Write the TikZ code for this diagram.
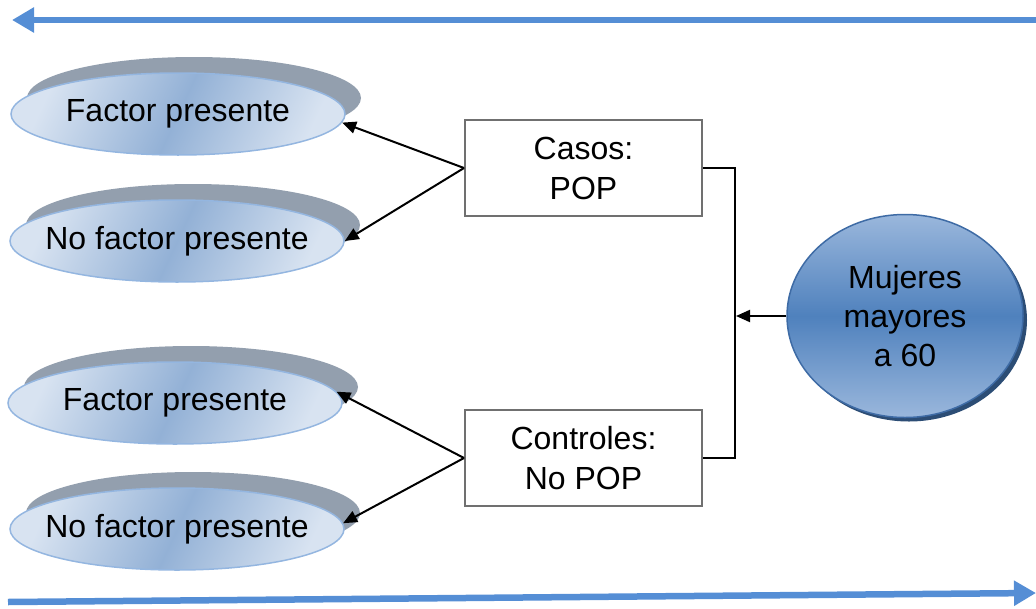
\documentclass[tikz,border=0pt]{standalone}
\usepackage{fontspec}
\setmainfont{Liberation Sans}
\usetikzlibrary{shapes.geometric,arrows.meta,calc}
\definecolor{ellL}{HTML}{D8E3F1}
\definecolor{ellD}{HTML}{93B1D6}
\definecolor{ellB}{HTML}{94B6E0}
\definecolor{shgray}{HTML}{939FAE}
\definecolor{cirL}{HTML}{9AB7DC}
\definecolor{cirD}{HTML}{4F81BD}
\definecolor{cirB}{HTML}{3E6BA5}
\definecolor{cirS}{HTML}{2C4D75}
\definecolor{arrblue}{HTML}{558ED5}
\definecolor{boxgray}{HTML}{707070}
\tikzset{
  ell/.style={ellipse, draw=ellB, line width=1.5pt, minimum width=334pt, minimum height=82pt,
    inner sep=0pt, shading=axis, left color=ellL, right color=ellL, middle color=ellD, shading angle=65,
    font=\fontsize{32}{36}\selectfont},
  shadowell/.style={fill=shgray},
  box/.style={rectangle, draw=boxgray, line width=2pt, minimum width=237pt, minimum height=96pt,
    align=center, font=\fontsize{32}{40}\selectfont, fill=white},
  circ/.style={ellipse, draw=cirB, line width=1.5pt, minimum width=236pt, minimum height=203pt,
    inner sep=0pt, align=center, top color=cirL, bottom color=cirL, middle color=cirD,
    font=\fontsize{32}{39}\selectfont},
  conn/.style={black, line width=2pt, -{Triangle[length=14pt,width=12pt]}},
  plain/.style={black, line width=2pt},
  bigarrow/.style={arrblue, line width=6.5pt, -{Triangle[length=22pt,width=24pt]}}
}
\begin{document}
\begin{tikzpicture}[x=1pt,y=-1pt]
\useasboundingbox (0,0) rectangle (1036,608);
% blue arrows
\coordinate (tr) at (1036,20);
\coordinate (tl) at (12,20);
\draw[bigarrow] (tr) -- (tl);
\coordinate (bl) at (8,602);
\coordinate (brr) at (1036,593);
\draw[bigarrow] (bl) -- (brr);
% shadows
\fill[shadowell] (194,98) ellipse [x radius=167, y radius=41];
\fill[shadowell] (193,225) ellipse [x radius=167, y radius=41];
\fill[shadowell] (191,387) ellipse [x radius=167, y radius=41];
\fill[shadowell] (193,513) ellipse [x radius=167, y radius=41];
% ellipses
\node[ell] (f1) at (178,114) {\makebox[0pt]{Factor presente}};
\node[ell] (f2) at (177,241) {\makebox[0pt]{No factor presente}};
\node[ell] (f3) at (175,403) {\makebox[0pt]{Factor presente}};
\node[ell] (f4) at (177,529) {\makebox[0pt]{No factor presente}};
% boxes
\node[box] (casos) at (583.5,168) {Casos:\\POP};
\node[box] (ctrl) at (583.5,458) {Controles:\\No POP};
% circle
\fill[cirS] (909,320) ellipse [x radius=118, y radius=101.5];
\node[circ] (muj) at (905,316) {Mujeres\\mayores\\a 60};
% connectors
\draw[conn] (casos.west) -- (f1.-3);
\draw[conn] (casos.west) -- (f2.east);
\draw[conn] (ctrl.west) -- (f3.4);
\draw[conn] (ctrl.west) -- (f4.2);
\coordinate (br) at ($(casos.east)+(32,0)$);
\draw[plain] (casos.east) -- (br) |- (ctrl.east);
\draw[conn] (muj.west) -- ($(muj.west -| br)+(1,0)$);
\end{tikzpicture}
\end{document}
